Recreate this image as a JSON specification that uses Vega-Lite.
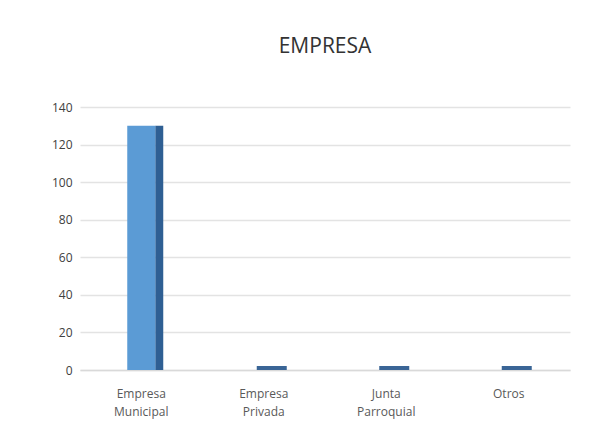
{
  "$schema": "https://vega.github.io/schema/vega-lite/v6.json",
  "autosize": {"type": "none"},
  "width": 490,
  "height": 263,
  "padding": {"left": 80, "top": 107, "right": 43, "bottom": 68},
  "background": "white",
  "title": {"text": "EMPRESA", "font": "Open Sans", "fontSize": 21, "fontWeight": "normal", "color": "#333333", "offset": 44, "anchor": "middle"},
  "data": {"values": [
    {"categoria": "Empresa Municipal", "valor": 130},
    {"categoria": "Empresa Privada", "valor": 0},
    {"categoria": "Junta Parroquial", "valor": 0},
    {"categoria": "Otros", "valor": 0}
  ]},
  "encoding": {
    "x": {"field": "categoria", "type": "nominal", "sort": null,
      "axis": {"title": null, "labelAngle": 0, "labelExpr": "split(datum.label, ' ')", "labelFont": "Open Sans", "labelFontSize": 12, "labelColor": "#595959", "labelPadding": 18, "ticks": false, "domainColor": "#d9d9d9", "domainWidth": 1.5, "labelLineHeight": 18}},
    "y": {"field": "valor", "type": "quantitative", "scale": {"domain": [0, 140]},
      "axis": {"title": null, "values": [0, 20, 40, 60, 80, 100, 120, 140], "domain": false, "ticks": false, "labelFont": "Open Sans", "labelFontSize": 12, "labelColor": "#404040", "labelPadding": 8, "gridColor": "#e3e3e3", "gridWidth": 1.5}}
  },
  "layer": [
    {"mark": {"type": "bar", "size": 8, "xOffset": 18, "color": "#2f5f93"}},
    {"mark": {"type": "bar", "size": 28, "color": "#5b9bd5"}},
    {"transform": [{"filter": "datum.valor == 0"}],
     "mark": {"type": "tick", "size": 30, "thickness": 4, "xOffset": 8, "yOffset": -2, "color": "#3a6596", "opacity": 1}}
  ],
  "config": {"view": {"stroke": null}}
}
